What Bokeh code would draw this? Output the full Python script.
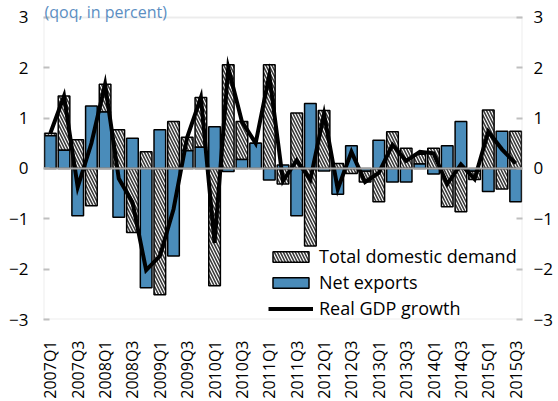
import math
from bokeh.plotting import figure
from bokeh.models import (ColumnDataSource, LinearAxis, FixedTicker, Range1d,
                          Legend, LegendItem, Span, Label, BoxAnnotation)
from bokeh.embed import file_html
from bokeh.resources import INLINE

quarters = [f"{y}Q{q}" for y in range(2007, 2016) for q in range(1, 5)][:35]

# contributions to growth (percentage points)
net_exports = [0.65, 0.36, -0.94, 1.24, 1.12, -0.97, 0.60, -2.37, 0.77, -1.74,
               0.35, 0.42, 0.83, -0.06, 0.18, 0.50, -0.23, 0.07, -0.94, 1.29,
               -0.05, -0.51, 0.45, -0.05, 0.56, -0.27, -0.27, 0.09, -0.11, 0.45,
               0.93, -0.05, -0.46, 0.74, -0.66]
total_domestic_demand = [0.05, 1.08, 0.57, -0.74, 0.55, 0.77, -1.27, 0.33, -2.51, 0.93,
                         0.27, 0.99, -2.33, 2.06, 0.75, 0.00, 2.06, -0.31, 1.10, -1.54,
                         1.15, 0.10, -0.10, -0.22, -0.66, 0.73, 0.40, 0.19, 0.40, -0.76,
                         -0.86, -0.17, 1.16, -0.41, 0.74]
real_gdp_growth = [0.70, 1.44, -0.37, 0.50, 1.67, -0.20, -0.67, -2.02, -1.74, -0.81,
                   0.62, 1.41, -1.48, 2.00, 0.93, 0.50, 1.85, -0.25, 0.16, -0.22,
                   1.08, -0.41, 0.33, -0.27, -0.09, 0.47, 0.15, 0.33, 0.30, -0.31,
                   0.08, -0.21, 0.73, 0.38, 0.10]

y_ticks = [-3, -2, -1, 0, 1, 2, 3]
Y_MIN, Y_MAX = -3, 3

# stacked bars with positive and negative parts stacked separately
x = list(range(len(quarters)))
nx_bottom, nx_top, tdd_bottom, tdd_top = [], [], [], []
for a, b in zip(net_exports, total_domestic_demand):
    pos, neg = 0.0, 0.0
    if a >= 0:
        nx_bottom.append(pos); nx_top.append(pos + a); pos += a
    else:
        nx_bottom.append(neg); nx_top.append(neg + a); neg += a
    if b >= 0:
        tdd_bottom.append(pos); tdd_top.append(pos + b)
    else:
        tdd_bottom.append(neg); tdd_top.append(neg + b)

src = ColumnDataSource(dict(x=x, nxb=nx_bottom, nxt=nx_top, tb=tdd_bottom, tt=tdd_top,
                            gdp=real_gdp_growth))

FONT = "Open Sans"
GRAY = "#bfbfbf"

# frame spans the full top of the canvas; the data box (-3..3) is outlined below
frame_h = 321
px_per_unit = 304 / (Y_MAX - Y_MIN)
y_top = Y_MAX + 17 / px_per_unit

p = figure(width=558, height=401, output_backend="svg", toolbar_location=None,
           x_range=Range1d(-0.5, len(quarters) - 0.5), y_range=Range1d(Y_MIN, y_top),
           min_border_left=43, min_border_right=36, min_border_top=0, min_border_bottom=80)
p.xgrid.visible = False
p.ygrid.visible = False
p.outline_line_color = None
p.background_fill_color = "white"
p.border_fill_color = "white"

r_tdd = p.vbar(x="x", bottom="tb", top="tt", width=0.85, source=src,
               fill_color="white", line_color="black", line_width=1.5,
               hatch_pattern="\\", hatch_color="#3a3a3a", hatch_weight=1.6, hatch_scale=6)
r_nx = p.vbar(x="x", bottom="nxb", top="nxt", width=0.85, source=src,
              fill_color="#4a8cba", line_color="black", line_width=1.5)
p.add_layout(Span(location=0, dimension="width", line_color="#a6a6a6", line_width=2))
r_gdp = p.line(x="x", y="gdp", source=src, line_color="black", line_width=4,
               line_join="miter")

p.add_layout(BoxAnnotation(left=-0.5, right=len(quarters) - 0.5, bottom=Y_MIN, top=Y_MAX,
                           fill_alpha=0, line_color=GRAY, line_width=2))

# x axis
xa = p.xaxis[0]
xa.ticker = FixedTicker(ticks=x[::2])
xa.major_label_overrides = {i: quarters[i] for i in x[::2]}
xa.major_label_orientation = math.pi / 2
xa.axis_line_color = None
xa.major_tick_line_color = None
xa.minor_tick_line_color = None
xa.major_label_standoff = 15
xa.major_label_text_font = FONT
xa.major_label_text_font_size = "16px"
xa.major_label_text_color = "black"

# left y axis
ya = p.yaxis[0]
ya.ticker = FixedTicker(ticks=y_ticks)
ya.axis_line_color = None
ya.major_tick_in = 6
ya.major_tick_out = 0
ya.major_tick_line_color = GRAY
ya.major_tick_line_width = 2
ya.minor_tick_line_color = None
ya.major_label_standoff = 15
ya.major_label_text_font = FONT
ya.major_label_text_font_size = "17px"
ya.major_label_text_color = "black"

# right y axis
ra = LinearAxis(ticker=FixedTicker(ticks=y_ticks))
ra.axis_line_color = None
ra.major_tick_in = 6
ra.major_tick_out = 0
ra.major_tick_line_color = GRAY
ra.major_tick_line_width = 2
ra.minor_tick_line_color = None
ra.major_label_standoff = 11
ra.major_label_text_font = FONT
ra.major_label_text_font_size = "17px"
ra.major_label_text_color = "black"
p.add_layout(ra, "right")

legend = Legend(items=[LegendItem(label="Total domestic demand", renderers=[r_tdd]),
                       LegendItem(label="Net exports", renderers=[r_nx]),
                       LegendItem(label="Real GDP growth", renderers=[r_gdp])],
                location=(225, -1), orientation="vertical",
                glyph_width=45, glyph_height=13, label_height=20, spacing=2,
                label_standoff=6, padding=0, margin=0,
                border_line_color=None, background_fill_alpha=0,
                label_text_font=FONT, label_text_font_size="18px",
                label_text_color="black")
p.add_layout(legend, "center")

p.add_layout(Label(x=1, y=frame_h - 13, x_units="screen", y_units="screen",
                   text="(qoq, in percent)", text_font=FONT, text_font_size="16px",
                   text_color="#5b8ec2", text_baseline="alphabetic"))

open("out.html", "w").write(file_html(p, INLINE))
